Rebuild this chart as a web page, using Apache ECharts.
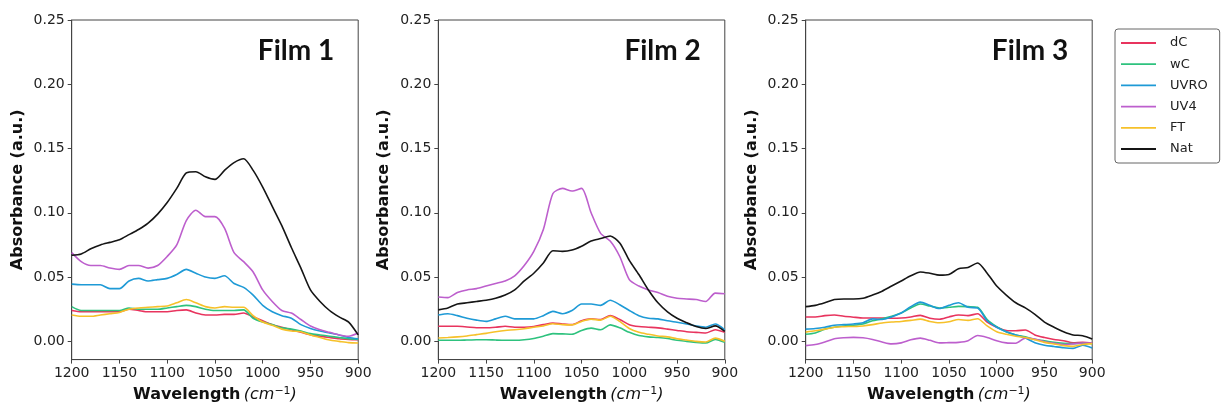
<!DOCTYPE html>
<html>
<head>
<meta charset="utf-8">
<script src="https://cdn.jsdelivr.net/npm/echarts@6/dist/echarts.min.js"></script>
<style>
html,body{margin:0;padding:0;background:#fff;}
#chart{width:1221px;height:408px;}
</style>
</head>
<body>
<div id="chart"></div>
<script>
// ---- data ----
const wavenumbers = [1200,1190,1180,1170,1160,1150,1140,1130,1120,1110,1100,1090,1080,1070,1060,1050,1040,1030,1020,1010,1000,990,980,970,960,950,940,930,920,910,900];
const seriesNames = ['dC','wC','UVRO','UV4','FT','Nat'];
const panelTitles = ['Film 1','Film 2','Film 3'];
const xTicks = [1200,1150,1100,1050,1000,950,900];
const yTicks = [0,0.05,0.10,0.15,0.20,0.25];

// Film 1
const f1_dC   = [0.024,0.023,0.023,0.023,0.023,0.023,0.025,0.024,0.023,0.023,0.023,0.024,0.0245,0.022,0.0205,0.0205,0.021,0.021,0.022,0.019,0.016,0.013,0.011,0.009,0.007,0.005,0.004,0.003,0.002,0.0015,0.0012];
const f1_wC   = [0.027,0.024,0.024,0.024,0.024,0.024,0.026,0.025,0.025,0.025,0.026,0.027,0.028,0.027,0.025,0.024,0.024,0.024,0.0245,0.018,0.015,0.013,0.0105,0.0095,0.008,0.006,0.005,0.004,0.003,0.002,0.0015];
const f1_UVRO = [0.0445,0.044,0.044,0.044,0.041,0.041,0.047,0.049,0.047,0.048,0.049,0.052,0.056,0.053,0.050,0.049,0.051,0.045,0.042,0.036,0.028,0.023,0.020,0.018,0.013,0.010,0.008,0.0065,0.005,0.003,0.002];
const f1_UV4  = [0.069,0.062,0.059,0.059,0.057,0.056,0.059,0.059,0.057,0.059,0.066,0.075,0.094,0.102,0.097,0.097,0.088,0.069,0.062,0.054,0.040,0.031,0.024,0.022,0.017,0.012,0.009,0.007,0.005,0.004,0.0065];
const f1_FT   = [0.0205,0.0195,0.0195,0.0205,0.0215,0.0225,0.025,0.026,0.0265,0.027,0.0275,0.030,0.0325,0.030,0.027,0.026,0.027,0.0265,0.0265,0.020,0.015,0.0125,0.0095,0.008,0.0075,0.005,0.003,0.001,0.0,-0.001,-0.0013];
const f1_Nat  = [0.067,0.068,0.072,0.075,0.077,0.079,0.083,0.087,0.092,0.099,0.108,0.119,0.131,0.132,0.128,0.126,0.133,0.139,0.142,0.133,0.120,0.105,0.090,0.073,0.057,0.040,0.031,0.024,0.019,0.015,0.005];

// Film 2
const f2_dC   = [0.0117,0.0117,0.0117,0.0112,0.0106,0.0106,0.011,0.0117,0.011,0.011,0.0115,0.013,0.0142,0.0135,0.013,0.016,0.0175,0.017,0.020,0.017,0.013,0.0115,0.011,0.0105,0.0095,0.0085,0.0075,0.007,0.0065,0.009,0.007];
const f2_wC   = [0.0008,0.0008,0.0008,0.001,0.0012,0.0013,0.001,0.0008,0.0008,0.0012,0.0022,0.004,0.006,0.0058,0.0055,0.0085,0.0103,0.009,0.0128,0.0105,0.007,0.0045,0.0035,0.003,0.0022,0.0008,0.0,-0.0008,-0.0013,0.0015,-0.0008];
const f2_UVRO = [0.0205,0.0215,0.020,0.018,0.0165,0.0155,0.0175,0.0195,0.0175,0.0175,0.0175,0.020,0.0233,0.0215,0.024,0.029,0.029,0.028,0.032,0.0285,0.024,0.020,0.018,0.0175,0.016,0.0148,0.0135,0.012,0.011,0.0135,0.009];
const f2_UV4  = [0.0345,0.034,0.038,0.040,0.041,0.043,0.045,0.047,0.051,0.059,0.070,0.087,0.115,0.119,0.117,0.119,0.100,0.084,0.078,0.066,0.048,0.043,0.040,0.038,0.035,0.0335,0.033,0.0325,0.031,0.0375,0.037];
const f2_FT   = [0.0026,0.003,0.0035,0.0042,0.0052,0.0062,0.0075,0.0085,0.009,0.0098,0.011,0.012,0.0137,0.013,0.0128,0.0155,0.0173,0.0165,0.0195,0.0155,0.010,0.007,0.0055,0.0042,0.0035,0.002,0.001,0.0,-0.0005,0.0025,0.0];
const f2_Nat  = [0.0245,0.026,0.029,0.030,0.031,0.032,0.0335,0.036,0.040,0.047,0.053,0.061,0.0705,0.070,0.071,0.074,0.078,0.080,0.082,0.0765,0.063,0.052,0.040,0.030,0.023,0.018,0.0145,0.0115,0.010,0.012,0.0078];

// Film 3
const f3_dC   = [0.019,0.019,0.020,0.0205,0.0195,0.0188,0.0182,0.0182,0.0181,0.018,0.0182,0.019,0.0202,0.018,0.0172,0.019,0.0205,0.020,0.0215,0.015,0.011,0.0085,0.0082,0.0088,0.005,0.003,0.0015,0.0005,-0.0012,-0.0008,-0.0013];
const f3_wC   = [0.0055,0.0065,0.0095,0.011,0.012,0.0125,0.0135,0.016,0.0175,0.0195,0.022,0.026,0.029,0.0275,0.026,0.0265,0.0272,0.027,0.0265,0.017,0.0115,0.0075,0.005,0.0035,0.0015,0.0005,-0.0008,-0.0015,-0.0018,-0.0015,-0.0018];
const f3_UVRO = [0.0095,0.010,0.011,0.0125,0.013,0.0135,0.0145,0.0175,0.017,0.019,0.022,0.027,0.0305,0.028,0.0255,0.028,0.030,0.0265,0.026,0.016,0.011,0.0075,0.005,0.0026,-0.001,-0.003,-0.004,-0.005,-0.0055,-0.003,-0.0052];
const f3_UV4  = [-0.0033,-0.0025,-0.0005,0.002,0.0028,0.0031,0.0028,0.0015,-0.0005,-0.002,-0.0012,0.0012,0.0025,0.0008,-0.0012,-0.001,-0.0008,0.0005,0.0045,0.003,0.0005,-0.0012,-0.0015,0.0025,0.0018,-0.0003,-0.0015,-0.0025,-0.002,-0.0013,-0.0013];
const f3_FT   = [0.0072,0.0082,0.0095,0.011,0.0114,0.0116,0.012,0.013,0.0143,0.015,0.0155,0.0163,0.0173,0.0155,0.0145,0.0152,0.017,0.0163,0.0176,0.012,0.0075,0.0055,0.004,0.003,0.0012,-0.0008,-0.002,-0.0033,-0.0039,-0.0025,-0.0018];
const f3_Nat  = [0.027,0.028,0.030,0.0325,0.033,0.033,0.0335,0.036,0.039,0.043,0.047,0.051,0.054,0.053,0.0515,0.052,0.0565,0.0575,0.061,0.053,0.043,0.036,0.030,0.026,0.021,0.015,0.011,0.0075,0.005,0.0044,0.0018];

const panels = [
  [f1_dC,f1_wC,f1_UVRO,f1_UV4,f1_FT,f1_Nat],
  [f2_dC,f2_wC,f2_UVRO,f2_UV4,f2_FT,f2_Nat],
  [f3_dC,f3_wC,f3_UVRO,f3_UV4,f3_FT,f3_Nat]
];

// ---- styles ----
const colors = ['#e8345e','#2ec27e','#1e9ad6','#bd5fcd','#f6c12a','#151515'];
const gridLefts = [71.7, 438.3, 805.7];
const gridTop = 20, gridW = 286.5, gridH = 340;
const axisColor = '#444';
const labelColor = '#222';
const baseFont = 'DejaVu Sans';

const grids = [], xAxes = [], yAxes = [], series = [], graphics = [];
panels.forEach((pdata, p) => {
  grids.push({left: gridLefts[p], top: gridTop, width: gridW, height: gridH,
    show: true, borderColor: axisColor, borderWidth: 1, backgroundColor: 'transparent'});
  xAxes.push({
    gridIndex: p, type: 'value', min: 900, max: 1200, inverse: true,
    axisLine: {show: true, onZero: false, lineStyle: {color: axisColor, width: 1}},
    axisTick: {show: true, inside: false, length: 4, lineStyle: {color: axisColor},
      customValues: xTicks},
    axisLabel: {color: labelColor, fontSize: 14, fontFamily: baseFont, margin: 7,
      customValues: xTicks, showMinLabel: true, showMaxLabel: true,
      formatter: v => String(v)},
    splitLine: {show: false},
    name: '{b|Wavelength} {i|(cm}{s|\u22121}{i|)}',
    nameLocation: 'middle', nameGap: 24,
    nameTextStyle: {
      rich: {
        b: {fontFamily: baseFont, fontWeight: 'bold', fontSize: 16, color: '#111'},
        i: {fontFamily: baseFont, fontStyle: 'italic', fontSize: 16, color: '#111'},
        s: {fontFamily: baseFont, fontSize: 11, color: '#111', verticalAlign: 'top', padding: [0,0,8,0]}
      }
    }
  });
  yAxes.push({
    gridIndex: p, type: 'value', min: -0.0142, max: 0.25,
    axisLine: {show: true, onZero: false, lineStyle: {color: axisColor, width: 1}},
    axisTick: {show: true, inside: false, length: 4, lineStyle: {color: axisColor},
      customValues: yTicks},
    axisLabel: {color: labelColor, fontSize: 14, fontFamily: baseFont, margin: 7,
      customValues: yTicks, formatter: v => v.toFixed(2)},
    splitLine: {show: false},
    name: 'Absorbance (a.u.)', nameLocation: 'middle', nameGap: 46,
    nameTextStyle: {fontFamily: baseFont, fontWeight: 'bold', fontSize: 16, color: '#111'}
  });
  pdata.forEach((vals, s) => {
    series.push({
      type: 'line', name: seriesNames[s], xAxisIndex: p, yAxisIndex: p,
      data: wavenumbers.map((w, i) => [w, vals[i]]),
      symbol: 'none', showSymbol: false, smooth: 0.25,
      lineStyle: {width: 1.6, color: colors[s]},
      itemStyle: {color: colors[s]},
      z: s === 5 ? 3 : 2,
      silent: true, animation: false
    });
  });
  graphics.push({
    type: 'text', x: gridLefts[p] + gridW - 24, y: 51,
    style: {text: panelTitles[p], font: 'bold 28px Lato', fill: '#111',
      align: 'right', verticalAlign: 'middle'}
  });
});

const chart = echarts.init(document.getElementById('chart'), null, {renderer: 'canvas'});
chart.setOption({
  animation: false,
  backgroundColor: '#fff',
  grid: grids, xAxis: xAxes, yAxis: yAxes, series: series,
  graphic: graphics,
  legend: {
    data: seriesNames.map((n, i) => ({name: n, icon: 'rect', itemStyle: {color: colors[i]}})),
    orient: 'vertical', left: 1115, top: 29,
    itemWidth: 35, itemHeight: 1.8, itemGap: 7.2,
    padding: [7, 12, 7, 6],
    borderColor: '#666', borderWidth: 1, borderRadius: 3,
    backgroundColor: '#fff',
    textStyle: {fontFamily: baseFont, fontSize: 13, color: '#222', lineHeight: 14, padding: [0,0,0,9]},
    selectedMode: false
  }
});
</script>
</body>
</html>
